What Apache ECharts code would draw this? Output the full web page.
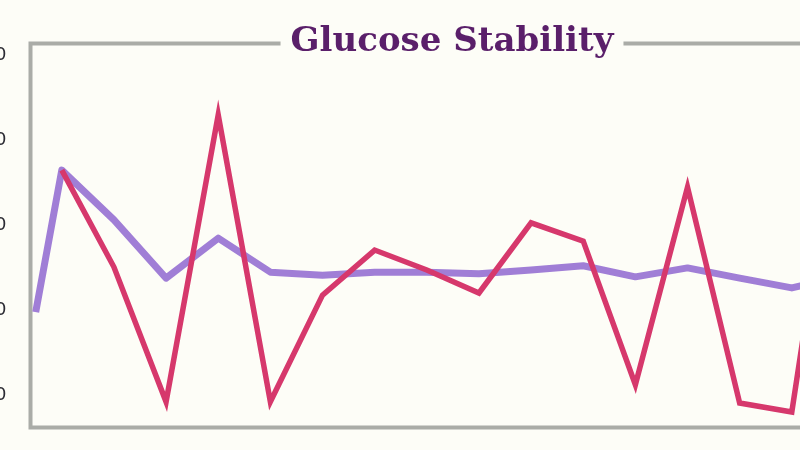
<!DOCTYPE html>
<html>
<head>
<meta charset="utf-8">
<script src="https://cdn.jsdelivr.net/npm/echarts@6/dist/echarts.min.js"></script>
<style>
html,body{margin:0;padding:0;background:#fdfdf7;overflow:hidden;width:800px;height:450px;}
#chart{position:absolute;left:0;top:0;width:904px;height:450px;}
</style>
</head>
<body>
<div id="chart"></div>
<script>
// Minutes since first reading
var minutes = [0, 15, 45, 75, 105, 135, 165, 195, 225, 255, 285, 315, 345, 375, 405, 435, 465];
// Glucose readings (mg/dL)
var glucose = [null, 132.9, 110.1, 78.4, 145.9, 78.4, 103.5, 114.1, 109.4, 104.0, 120.5, 116.2, 82.4, 128.9, 78.1, 76.0, 156.5];
// Smoothed trend
var trend = [99.5, 132.9, 121.2, 107.5, 116.9, 108.9, 108.2, 108.9, 108.9, 108.5, 109.4, 110.4, 107.8, 109.9, 107.5, 105.2, 108.0];
var yTicks = [80, 100, 120, 140, 160];

function pairs(vals) {
  return minutes.map(function (m, i) { return [m, vals[i]]; });
}

var chart = echarts.init(document.getElementById('chart'), null, {renderer: 'canvas'});
chart.setOption({
  backgroundColor: '#fdfdf7',
  animation: false,
  title: {
    text: 'Glucose Stability',
    left: 'center',
    top: 25,
    padding: [0, 10],
    backgroundColor: '#fdfdf7',
    textStyle: {
      fontFamily: 'DejaVu Serif',
      fontWeight: 'bold',
      fontSize: 34,
      color: '#5a1f6a'
    }
  },
  grid: {
    left: 30.5, right: 30.5, top: 43.5, bottom: 22.5,
    containLabel: false,
    outerBoundsMode: 'none',
    show: true,
    borderColor: '#aaaca7',
    borderWidth: 4,
    backgroundColor: 'transparent'
  },
  xAxis: {
    type: 'value',
    min: -3,
    max: 482,
    axisLine: {show: false},
    axisTick: {show: false},
    axisLabel: {show: false},
    splitLine: {show: false}
  },
  yAxis: {
    type: 'value',
    min: 72.35,
    max: 162.7,
    axisLine: {show: false},
    axisTick: {show: false},
    splitLine: {show: false},
    axisLabel: {
      showMinLabel: false,
      showMaxLabel: false,
      margin: 24,
      fontSize: 18,
      color: '#2b2b33',
      fontFamily: 'DejaVu Sans',
      formatter: function (v) { return yTicks.indexOf(v) >= 0 ? String(v) : ''; }
    }
  },
  series: [
    {
      name: 'Trend',
      type: 'line',
      data: pairs(trend),
      symbol: 'none',
      lineStyle: {color: '#a07ed6', width: 7, join: 'round', cap: 'butt'},
      z: 3
    },
    {
      name: 'Glucose',
      type: 'line',
      data: pairs(glucose),
      symbol: 'none',
      connectNulls: false,
      lineStyle: {color: '#d6386c', width: 5.5, join: 'miter'},
      z: 4
    }
  ]
});
</script>
</body>
</html>
